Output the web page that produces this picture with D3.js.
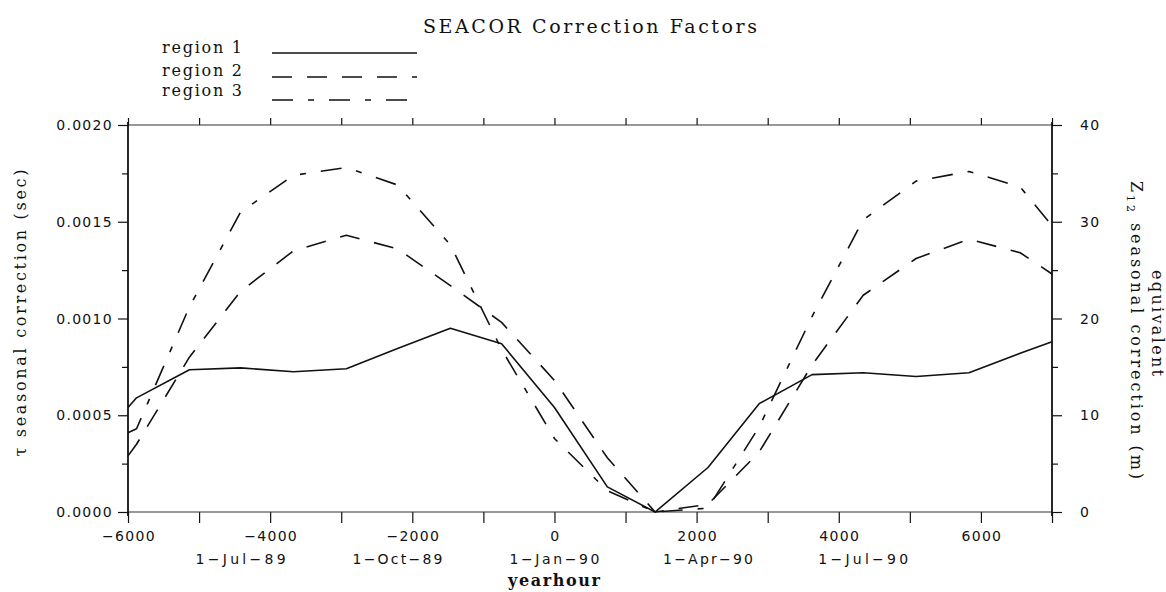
<!DOCTYPE html>
<html>
<head>
<meta charset="utf-8">
<script src="https://cdn.jsdelivr.net/npm/d3@7"></script>
<style>
  html, body { margin: 0; padding: 0; background: #fff; }
  svg { display: block; }
  .num { font-family: "DejaVu Sans", sans-serif; font-size: 14px; letter-spacing: 1.3px; fill: #111; }
  .ser { font-family: "DejaVu Serif", serif; fill: #111; }
</style>
</head>
<body>
<svg id="chart" width="1166" height="592"></svg>
<script>
// Hours relative to 1-Jan-90 00:00 (first of each month, plus the plot edges)
const yearhour = [-6000, -5880, -5136, -4416, -3672, -2928, -2208, -1464, -744, 0,
                  744, 1416, 2160, 2880, 3624, 4344, 5088, 5832, 6552, 7000];
// Seasonal tau correction (sec) per region
const region1 = [0.00054, 0.00059, 0.000735, 0.000745, 0.000725, 0.00074, 0.000845, 0.00095, 0.00087, 0.00054,
                 0.00013, 0.0, 0.00023, 0.00056, 0.00071, 0.00072, 0.0007, 0.00072, 0.00082, 0.00088];
const region2 = [0.00029, 0.00035, 0.0008, 0.00114, 0.00135, 0.00143, 0.00136, 0.00117, 0.00098, 0.00068,
                 0.00028, 0.0, 0.00004, 0.00031, 0.00076, 0.00112, 0.00131, 0.00141, 0.00134, 0.00123];
const region3 = [0.00041, 0.00043, 0.00106, 0.00155, 0.00174, 0.00178, 0.00169, 0.00138, 0.00084, 0.00038,
                 0.00011, 0.0, 0.00002, 0.00044, 0.00101, 0.00151, 0.00171, 0.00176, 0.00168, 0.00148];
const seriesNames = ["region 1", "region 2", "region 3"];

const hourTicks = [-6000, -5000, -4000, -3000, -2000, -1000, 0, 1000, 2000, 3000, 4000, 5000, 6000, 7000];
const hourLabels = [-6000, -4000, -2000, 0, 2000, 4000, 6000];
const dateLabels = ["1\u2212Jul\u221289", "1\u2212Oct\u221289", "1\u2212Jan\u221290", "1\u2212Apr\u221290", "1\u2212Jul\u221290"];
const dateHours = [-4416, -2208, 0, 2160, 4344];
const tauMajor = [0, 0.0005, 0.001, 0.0015, 0.002];
const tauMinor = [0.00025, 0.00075, 0.00125, 0.00175];
const zMajor = [0, 10, 20, 30, 40];
const zMinor = [5, 15, 25, 35];

const svg = d3.select("#chart");
const L = 128, R = 1052, T = 125, B = 512;

const x = d3.scaleLinear().domain([-6000, 7000]).range([L, R]);
const y = d3.scaleLinear().domain([0, 0.002]).range([B, T]);
const yZ = d3.scaleLinear().domain([0, 40]).range([B, T]);

const ink = "#111";

// tick marks (outward on every side)
function ticksOnly(axis) { return axis.tickFormat("").tickSizeOuter(0); }
const gB = svg.append("g").attr("transform", `translate(0,${B})`)
  .call(ticksOnly(d3.axisBottom(x).tickValues(hourTicks).tickSize(11)));
const gT = svg.append("g").attr("transform", `translate(0,${T})`)
  .call(ticksOnly(d3.axisTop(x).tickValues(hourTicks).tickSize(7)));
const gL1 = svg.append("g").attr("transform", `translate(${L},0)`)
  .call(ticksOnly(d3.axisLeft(y).tickValues(tauMajor).tickSize(10)));
const gL2 = svg.append("g").attr("transform", `translate(${L},0)`)
  .call(ticksOnly(d3.axisLeft(y).tickValues(tauMinor).tickSize(6)));
const gR1 = svg.append("g").attr("transform", `translate(${R},0)`)
  .call(ticksOnly(d3.axisRight(yZ).tickValues(zMajor).tickSize(10)));
const gR2 = svg.append("g").attr("transform", `translate(${R},0)`)
  .call(ticksOnly(d3.axisRight(yZ).tickValues(zMinor).tickSize(6)));
[gB, gT, gL1, gL2, gR1, gR2].forEach(g => {
  g.select(".domain").remove();
  g.selectAll(".tick line").attr("stroke", ink).attr("stroke-width", 1.2);
});

// frame: heavier verticals, light horizontals
svg.append("line").attr("x1", L).attr("x2", R).attr("y1", T).attr("y2", T).attr("stroke", "#333").attr("stroke-width", 1.1);
svg.append("line").attr("x1", L).attr("x2", R).attr("y1", B).attr("y2", B).attr("stroke", "#333").attr("stroke-width", 1.1);
svg.append("line").attr("x1", L).attr("x2", L).attr("y1", T - 3).attr("y2", B + 4).attr("stroke", ink).attr("stroke-width", 1.8);
svg.append("line").attr("x1", R).attr("x2", R).attr("y1", T - 3).attr("y2", B + 4).attr("stroke", ink).attr("stroke-width", 1.8);

// tick labels
const fmtTau = d3.format(".4f");
svg.append("g").selectAll("text").data(tauMajor).join("text")
  .attr("class", "num").attr("x", L - 15).attr("y", d => y(d)).attr("dy", "0.36em")
  .attr("text-anchor", "end").text(d => fmtTau(d));
svg.append("g").selectAll("text").data(zMajor).join("text")
  .attr("class", "num").attr("x", R + 28).attr("y", d => yZ(d)).attr("dy", "0.36em")
  .text(d => d);
const fmtHour = d3.format("d");
svg.append("g").selectAll("text").data(hourLabels).join("text")
  .attr("class", "num").attr("x", d => x(d) + 1).attr("y", B + 29)
  .attr("text-anchor", "middle").text(d => fmtHour(d).replace("-", "\u2212"));
svg.append("g").selectAll("text").data(dateLabels).join("text")
  .attr("class", "num").attr("x", (d, i) => x(dateHours[i])).attr("y", B + 52)
  .attr("text-anchor", "middle").attr("textLength", 90).attr("lengthAdjust", "spacing")
  .style("letter-spacing", "0px").text(d => d);

// curves
const series = [
  { name: seriesNames[0], values: region1, dash: null },
  { name: seriesNames[1], values: region2, dash: "20,15" },
  { name: seriesNames[2], values: region3, dash: "21,15,6,15" }
];
const line = d3.line().x((d, i) => x(yearhour[i])).y(d => y(d));
svg.append("g").selectAll("path").data(series).join("path")
  .attr("d", s => line(s.values))
  .attr("fill", "none").attr("stroke", ink).attr("stroke-width", 1.6)
  .attr("stroke-linejoin", "round")
  .attr("stroke-dasharray", s => s.dash);

// title
svg.append("text").attr("class", "ser").attr("x", 423).attr("y", 33)
  .style("font-size", "19px").attr("textLength", 334).attr("lengthAdjust", "spacing")
  .text("SEACOR Correction Factors");

// legend
const legY = [53, 76, 96];
const legLineY = [53, 77, 100];
const leg = svg.append("g");
series.forEach((s, i) => {
  leg.append("text").attr("class", "ser").attr("x", 162).attr("y", legY[i])
    .style("font-size", "16px")
    .attr("textLength", 80).attr("lengthAdjust", "spacing").text(s.name);
  leg.append("line").attr("x1", 272).attr("x2", 417).attr("y1", legLineY[i]).attr("y2", legLineY[i])
    .attr("stroke", ink).attr("stroke-width", 1.4).attr("stroke-dasharray", s.dash);
});

// axis titles
svg.append("text").attr("class", "ser").attr("text-anchor", "middle")
  .attr("transform", `translate(${(L + R) / 2 - 36},586)`)
  .style("font-size", "16px").style("font-weight", "bold")
  .attr("textLength", 92).attr("lengthAdjust", "spacing").text("yearhour");

svg.append("text").attr("class", "ser").attr("text-anchor", "middle")
  .attr("transform", "translate(26,313) rotate(-90)")
  .style("font-size", "16px")
  .attr("textLength", 287).attr("lengthAdjust", "spacing")
  .text("\u03c4 seasonal correction (sec)");

svg.append("text").attr("class", "ser").attr("text-anchor", "middle")
  .attr("transform", "translate(1152,323) rotate(90)")
  .style("font-size", "16px")
  .attr("textLength", 106).attr("lengthAdjust", "spacing")
  .text("equivalent");

const zt = svg.append("text").attr("class", "ser").attr("text-anchor", "middle")
  .attr("transform", "translate(1131,330) rotate(90)")
  .style("font-size", "16px")
  .attr("textLength", 298).attr("lengthAdjust", "spacing");
zt.append("tspan").text("Z");
zt.append("tspan").attr("dy", 4).style("font-size", "11px").text("12");
zt.append("tspan").attr("dy", -4).text(" seasonal correction (m)");
</script>
</body>
</html>
